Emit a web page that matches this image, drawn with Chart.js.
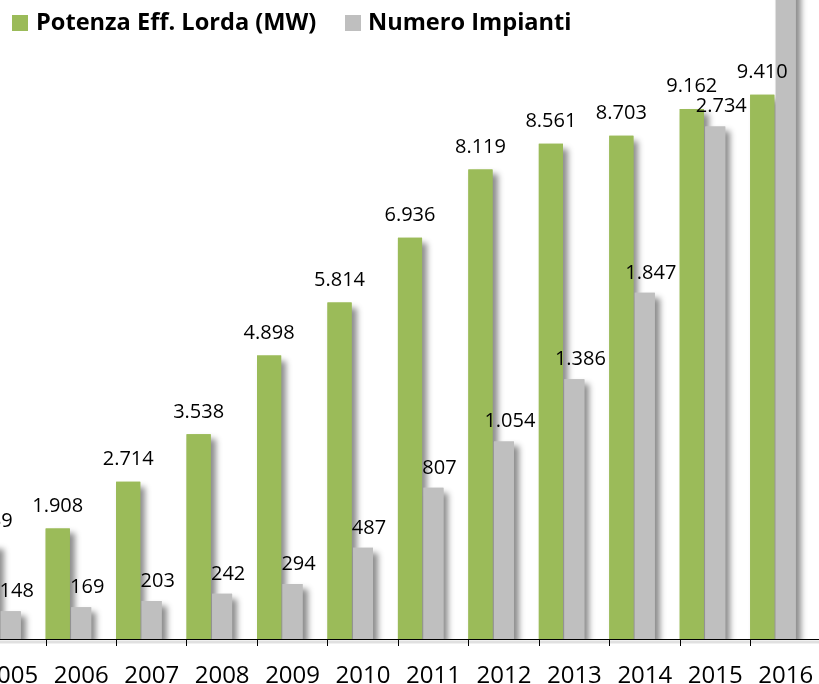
<!DOCTYPE html>
<html>
<head>
<meta charset="utf-8">
<script src="https://cdn.jsdelivr.net/npm/chart.js@4.4.1/dist/chart.umd.min.js"></script>
<style>
  html, body { margin: 0; padding: 0; background: #fff; overflow: hidden; }
  #vista { position: relative; width: 819px; height: 684px; overflow: hidden; }
  /* il grafico originale è ritagliato: la tela è più grande della vista */
  #contenitore { position: absolute; left: -60px; top: -80px; width: 919px; height: 800px; }
</style>
</head>
<body>
<div id="vista"><div id="contenitore"><canvas id="eolicoChart"></canvas></div></div>
<script>
const anni = ["2005", "2006", "2007", "2008", "2009", "2010", "2011", "2012", "2013", "2014", "2015", "2016"];
const potenza = [1639, 1908, 2714, 3538, 4898, 5814, 6936, 8119, 8561, 8703, 9162, 9410];
const impianti = [148, 169, 203, 242, 294, 487, 807, 1054, 1386, 1847, 2734, 3598];
const voci = ["Potenza Eff. Lorda (MW)", "Numero Impianti"];

const VERDE = "#9bbb59";
const GRIGIO = "#bfbfbf";
const OX = 60, OY = 80; // spostamento della tela rispetto alla vista

function formatta(n) {
  return String(n).replace(/\B(?=(\d{3})+(?!\d))/g, ".");
}

// ombre delle barre: prima passata con ombra, poi il disegno normale copre i corpi
const ombraBarre = {
  id: "ombraBarre",
  beforeDatasetsDraw(chart) {
    const ctx = chart.ctx;
    const a = chart.chartArea;
    ctx.save();
    ctx.beginPath();
    ctx.rect(a.left, a.top, a.right - a.left, a.bottom - a.top);
    ctx.clip();
    ctx.shadowColor = "rgba(0, 0, 0, 0.45)";
    ctx.shadowBlur = 6;
    ctx.shadowOffsetX = 5;
    ctx.shadowOffsetY = 5;
    [0, 1].forEach(function (i) {
      chart.getDatasetMeta(i).data.forEach(function (barra) {
        barra.draw(ctx);
      });
    });
    ctx.restore();
  },
};

// etichette dei valori sopra le barre
const etichette = {
  id: "etichette",
  afterDatasetsDraw(chart) {
    const ctx = chart.ctx;
    ctx.save();
    ctx.fillStyle = "#000";
    ctx.font = "20px 'Open Sans'";
    ctx.textAlign = "center";
    ctx.textBaseline = "alphabetic";
    chart.getDatasetMeta(0).data.forEach(function (barra, i) {
      ctx.fillText(formatta(potenza[i]), barra.x, barra.y - 17);
    });
    chart.getDatasetMeta(1).data.forEach(function (barra, i) {
      ctx.fillText(formatta(impianti[i]), barra.x + 6, barra.y - 14);
    });
    ctx.restore();
  },
};

// legenda in alto a sinistra e ombra della linea dell'asse
const legenda = {
  id: "legenda",
  afterDraw(chart) {
    const ctx = chart.ctx;
    const a = chart.chartArea;
    ctx.save();
    ctx.fillStyle = "rgba(0, 0, 0, 0.12)";
    ctx.fillRect(a.left, a.bottom + 1.5, a.right - a.left, 3);

    ctx.font = "bold 23.6px 'Open Sans'";
    ctx.textBaseline = "middle";
    ctx.fillStyle = VERDE;
    ctx.fillRect(12 + OX, 15 + OY, 16, 16);
    ctx.fillStyle = "#000";
    ctx.fillText(voci[0], 36 + OX, 23 + OY);
    ctx.fillStyle = GRIGIO;
    ctx.fillRect(345 + OX, 15 + OY, 16, 16);
    ctx.fillStyle = "#000";
    ctx.fillText(voci[1], 368 + OX, 23 + OY);
    ctx.restore();
  },
};

const ctx = document.getElementById("eolicoChart").getContext("2d");

const chart = new Chart(ctx, {
  type: "bar",
  data: {
    labels: anni,
    datasets: [
      {
        label: voci[0],
        data: potenza,
        backgroundColor: VERDE,
        yAxisID: "y",
        barPercentage: 1,
      },
      {
        label: voci[1],
        data: impianti,
        backgroundColor: GRIGIO,
        yAxisID: "y1",
        barPercentage: 0.85,
      },
      {
        // posto vuoto: tiene il gruppo allineato a sinistra nella categoria
        label: "",
        data: [],
        yAxisID: "y",
      },
    ],
  },
  options: {
    responsive: true,
    maintainAspectRatio: false,
    animation: false,
    events: [],
    layout: {
      padding: { left: 35.55, right: 38.05, top: 25.4, bottom: 21 },
    },
    datasets: {
      bar: { categoryPercentage: 1, borderWidth: 0 },
    },
    plugins: {
      legend: { display: false },
      tooltip: { enabled: false },
      title: { display: false },
    },
    scales: {
      x: {
        grid: {
          display: true,
          drawOnChartArea: false,
          drawTicks: true,
          tickLength: 7,
          color: "#000",
          offset: true,
        },
        border: { display: true, color: "#000", width: 1 },
        ticks: {
          color: "#000",
          font: { family: "'Open Sans'", size: 24 },
          padding: 16,
          maxRotation: 0,
          autoSkip: false,
        },
        afterFit(scale) {
          scale.height = 60;
        },
      },
      y: {
        display: false,
        min: 0,
        max: 12000,
      },
      y1: {
        display: false,
        min: 0,
        max: 3700,
      },
    },
  },
  plugins: [ombraBarre, etichette, legenda],
});
</script>
</body>
</html>
